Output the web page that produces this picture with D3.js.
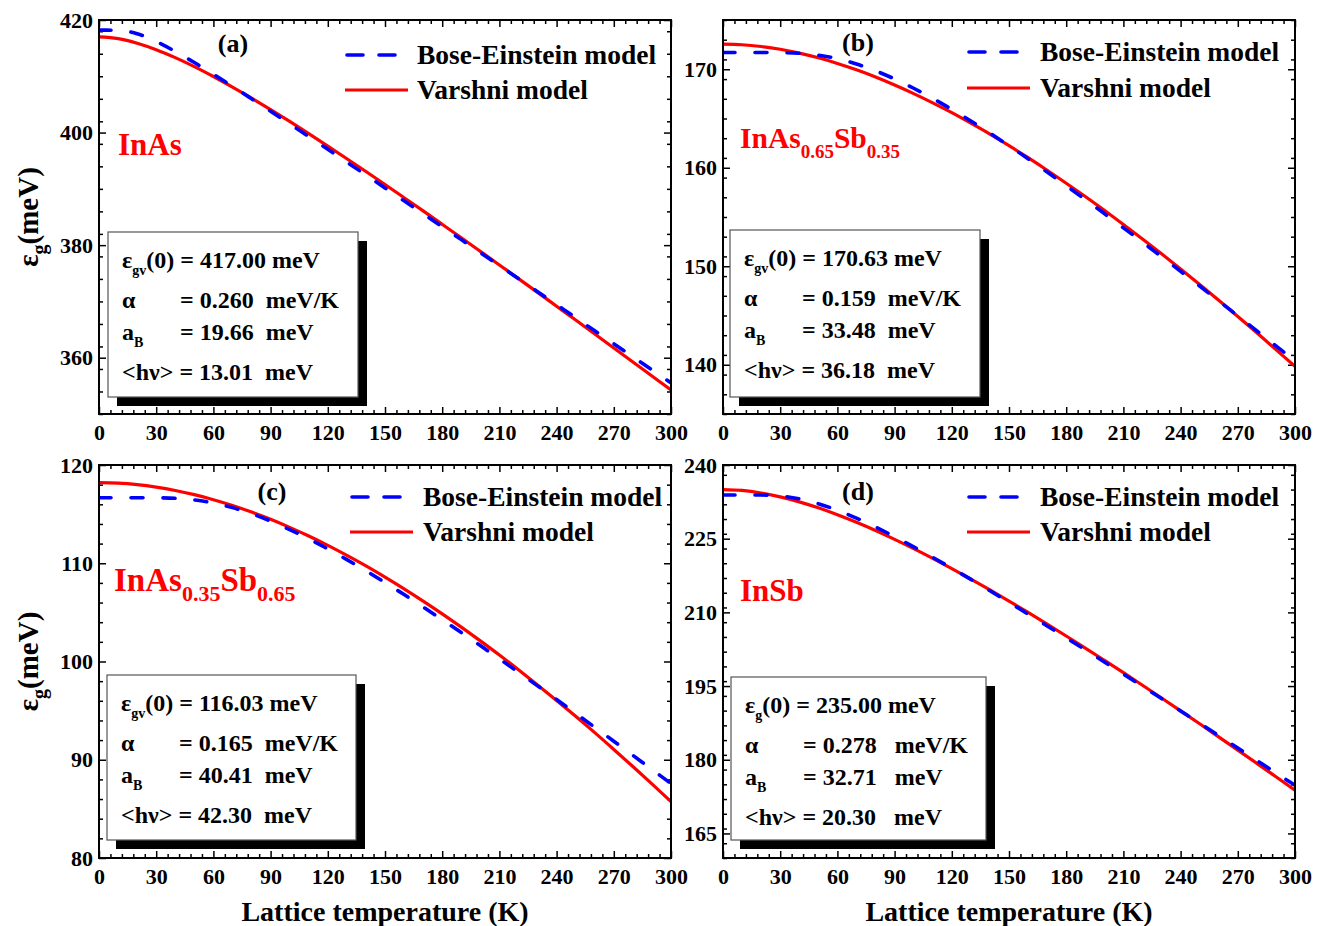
<!DOCTYPE html>
<html><head><meta charset="utf-8">
<script src="https://cdn.jsdelivr.net/npm/d3@7"></script>
<style>
body{margin:0;background:#fff;}
svg text{font-family:"Liberation Serif","Times New Roman",serif;font-weight:bold;}
</style>
</head><body>
<svg id="chart" width="1325" height="926"></svg>
<script>
// ---------------- DATA ----------------
const temperature = [0,10,20,30,40,50,60,70,80,90,100,110,120,130,140,150,160,170,180,190,200,210,220,230,240,250,260,270,280,290,300];

// (a) InAs
const boseA    = [418.20,418.17,417.56,416.18,414.41,412.44,410.35,408.21,406.01,403.79,401.55,399.30,397.03,394.75,392.46,390.17,387.87,385.58,383.28,380.98,378.67,376.36,374.05,371.73,369.42,367.11,364.79,362.48,360.16,357.84,355.54];
const varshniA = [417.00,416.69,415.88,414.73,413.32,411.72,409.96,408.09,406.12,404.08,401.97,399.81,397.60,395.35,393.08,390.77,388.43,386.08,383.70,381.31,378.90,376.48,374.05,371.61,369.15,366.69,364.22,361.74,359.25,356.76,354.27];
// (b) InAs0.65Sb0.35
const boseB    = [171.70,171.70,171.70,171.69,171.62,171.43,171.07,170.53,169.84,169.01,168.07,167.04,165.92,164.74,163.51,162.23,160.91,159.56,158.18,156.78,155.35,153.90,152.45,150.97,149.49,147.99,146.48,144.96,143.44,141.91,140.37];
const varshniB = [172.55,172.49,172.31,172.03,171.64,171.16,170.59,169.94,169.21,168.40,167.53,166.59,165.59,164.52,163.41,162.24,161.02,159.75,158.43,157.08,155.68,154.24,152.77,151.26,149.72,148.14,146.54,144.90,143.24,141.54,139.83];
// (c) InAs0.35Sb0.65
const boseC    = [116.67,116.67,116.67,116.66,116.61,116.44,116.13,115.66,115.04,114.29,113.43,112.49,111.46,110.37,109.23,108.04,106.81,105.55,104.26,102.95,101.62,100.27,98.90,97.52,96.13,94.72,93.31,91.89,90.45,89.01,87.57];
const varshniC = [118.20,118.15,118.00,117.75,117.41,116.98,116.47,115.88,115.21,114.47,113.65,112.77,111.82,110.80,109.73,108.59,107.40,106.15,104.85,103.50,102.10,100.66,99.16,97.62,96.04,94.42,92.76,91.05,89.31,87.54,85.73];
// (d) InSb
const boseD    = [233.89,233.89,233.88,233.69,233.11,232.12,230.78,229.18,227.37,225.42,223.35,221.20,218.98,216.71,214.39,212.04,209.65,207.24,204.81,202.37,199.90,197.43,194.95,192.45,189.94,187.43,184.91,182.39,179.86,177.32,174.79];
const varshniD = [235.00,234.82,234.30,233.52,232.50,231.28,229.88,228.34,226.66,224.87,222.97,220.98,218.91,216.77,214.56,212.30,209.98,207.61,205.19,202.74,200.24,197.72,195.16,192.57,189.96,187.32,184.65,181.97,179.27,176.54,173.80];

const xTickValues = [0,30,60,90,120,150,180,210,240,270,300];
const xMinorStep = 6;
const yDomains = [[350,420],[135,175],[80,120],[160,240]];
const yTickValues = [[360,380,400,420],[140,150,160,170],[80,90,100,110,120],[165,180,195,210,225,240]];
const yMinorSteps = [4,2,2,3];

const panelTags = ["(a)","(b)","(c)","(d)"];
const materialNames = [
  [["InAs",""]],
  [["InAs","0.65"],["Sb","0.35"]],
  [["InAs","0.35"],["Sb","0.65"]],
  [["InSb",""]]
];
const legendLabels = ["Bose-Einstein model","Varshni model"];
const gapSubscripts = ["gv","gv","gv","g"];
const gapValues = ["417.00","170.63","116.03","235.00"];
const alphaValues = ["0.260","0.159","0.165","0.278"];
const aBValues = ["19.66","33.48","40.41","32.71"];
const hvValues = ["13.01","36.18","42.30","20.30"];
const unitGaps = ["  ","  ","  ","   "];
const xTitle = "Lattice temperature (K)";

// ---------------- LAYOUT ----------------
const frames = [
  {left:99, right:671, top:20, bottom:414},
  {left:723, right:1295, top:20, bottom:414},
  {left:99, right:671, top:465, bottom:858},
  {left:723, right:1295, top:465, bottom:858}
];
const boseSeries = [boseA,boseB,boseC,boseD];
const varshniSeries = [varshniA,varshniB,varshniC,varshniD];
const boxes = [
  {dx:9, dy:212, w:250, h:165},
  {dx:7, dy:210, w:250, h:167},
  {dx:8, dy:210, w:249, h:165},
  {dx:8, dy:212, w:255, h:163}
];
const legendPos = [
  {lx:246, tx:318, y1:35, y2:70},
  {lx:244, tx:317, y1:32, y2:68},
  {lx:251, tx:324, y1:32, y2:67},
  {lx:244, tx:317, y1:32, y2:67}
];
const tagPos = [{x:134,y:32},{x:135,y:31},{x:173,y:35},{x:135,y:35}];
const matPos = [{x:19,y:135},{x:17,y:128},{x:15,y:126},{x:17,y:136}];
const matSize = [31,29.5,33,31];

const FONT = '"Liberation Serif","Times New Roman",serif';
const svg = d3.select("#chart");
const defs = svg.append("defs");

function rich(parent, x, y, parts, size, color) {
  const t = parent.append("text").attr("x",x).attr("y",y)
    .attr("font-size",size).attr("fill",color||"#000").style("white-space","pre");
  let shift = 0;
  parts.forEach(p => {
    const s = t.append("tspan").text(p.t);
    const target = p.sub || 0;
    if (target !== shift) { s.attr("dy", target - shift); shift = target; }
    if (p.size) s.attr("font-size", p.size);
  });
  return t;
}

function styleAxis(g, fs) {
  g.selectAll("path.domain").remove();
  g.selectAll("line").attr("stroke","#000").attr("stroke-width",1.5);
  g.selectAll("text").attr("font-size",fs).attr("font-family",FONT)
    .attr("font-weight","bold").attr("fill","#000");
}

frames.forEach((f,i) => {
  const g = svg.append("g");
  const x = d3.scaleLinear().domain([0,300]).range([f.left,f.right]);
  const y = d3.scaleLinear().domain(yDomains[i]).range([f.bottom,f.top]);

  const xMinor = d3.range(0,300+1e-9,xMinorStep).filter(v=>!xTickValues.includes(v));
  const yMinor = d3.range(yDomains[i][0], yDomains[i][1]+1e-9, yMinorSteps[i]).filter(v=>!yTickValues[i].includes(v));

  const major = 7, minor = 4, TF = 22;
  styleAxis(g.append("g").attr("transform",`translate(0,${f.bottom})`)
    .call(d3.axisBottom(x).tickValues(xTickValues).tickSize(-major).tickPadding(10).tickFormat(d3.format("d"))), TF);
  styleAxis(g.append("g").attr("transform",`translate(0,${f.bottom})`)
    .call(d3.axisBottom(x).tickValues(xMinor).tickSize(-minor).tickFormat("")), TF);
  styleAxis(g.append("g").attr("transform",`translate(0,${f.top})`)
    .call(d3.axisTop(x).tickValues(xTickValues).tickSize(-major).tickFormat("")), TF);
  styleAxis(g.append("g").attr("transform",`translate(0,${f.top})`)
    .call(d3.axisTop(x).tickValues(xMinor).tickSize(-minor).tickFormat("")), TF);
  styleAxis(g.append("g").attr("transform",`translate(${f.left},0)`)
    .call(d3.axisLeft(y).tickValues(yTickValues[i]).tickSize(-major).tickPadding(6).tickFormat(d3.format("d"))), TF);
  styleAxis(g.append("g").attr("transform",`translate(${f.left},0)`)
    .call(d3.axisLeft(y).tickValues(yMinor).tickSize(-minor).tickFormat("")), TF);
  styleAxis(g.append("g").attr("transform",`translate(${f.right},0)`)
    .call(d3.axisRight(y).tickValues(yTickValues[i]).tickSize(-major).tickFormat("")), TF);
  styleAxis(g.append("g").attr("transform",`translate(${f.right},0)`)
    .call(d3.axisRight(y).tickValues(yMinor).tickSize(-minor).tickFormat("")), TF);

  const cid = "clip"+i;
  defs.append("clipPath").attr("id",cid).append("rect")
    .attr("x",f.left).attr("y",f.top).attr("width",f.right-f.left).attr("height",f.bottom-f.top);

  const line = d3.line().x((d,j)=>x(temperature[j])).y(d=>y(d)).curve(d3.curveMonotoneX);
  const cg = g.append("g").attr("clip-path",`url(#${cid})`);
  cg.append("path").datum(varshniSeries[i]).attr("d",line)
    .attr("fill","none").attr("stroke","#ff0000").attr("stroke-width",3.2);
  cg.append("path").datum(boseSeries[i]).attr("d",line)
    .attr("fill","none").attr("stroke","#0000ff").attr("stroke-width",3.6)
    .attr("stroke-dasharray","12,20").attr("stroke-linecap","round");

  g.append("rect").attr("x",f.left).attr("y",f.top).attr("width",f.right-f.left).attr("height",f.bottom-f.top)
    .attr("fill","none").attr("stroke","#000").attr("stroke-width",2);

  g.append("text").attr("x",f.left+tagPos[i].x).attr("y",f.top+tagPos[i].y)
    .attr("text-anchor","middle").attr("font-size",26).text(panelTags[i]);

  const L = legendPos[i];
  g.append("line").attr("x1",f.left+L.lx).attr("x2",f.left+L.lx+62).attr("y1",f.top+L.y1).attr("y2",f.top+L.y1)
    .attr("stroke","#0000ff").attr("stroke-width",3.6).attr("stroke-dasharray","16,16").attr("stroke-linecap","round")
    .attr("stroke-dashoffset",-2);
  g.append("line").attr("x1",f.left+L.lx).attr("x2",f.left+L.lx+63).attr("y1",f.top+L.y2).attr("y2",f.top+L.y2)
    .attr("stroke","#ff0000").attr("stroke-width",3.2);
  g.append("text").attr("x",f.left+L.tx).attr("y",f.top+L.y1+9).attr("font-size",27.5).text(legendLabels[0]);
  g.append("text").attr("x",f.left+L.tx).attr("y",f.top+L.y2+9).attr("font-size",27.5).text(legendLabels[1]);

  const parts = [];
  materialNames[i].forEach(([main,sub]) => {
    parts.push({t:main});
    if (sub) parts.push({t:sub, sub:10, size:Math.round(matSize[i]*0.66)});
  });
  rich(g, f.left+matPos[i].x, f.top+matPos[i].y, parts, matSize[i], "#ff0000");

  const B = boxes[i];
  const bx = f.left+B.dx, by = f.top+B.dy;
  g.append("rect").attr("x",bx+9).attr("y",by+9).attr("width",B.w).attr("height",B.h).attr("fill","#000");
  g.append("rect").attr("x",bx).attr("y",by).attr("width",B.w).attr("height",B.h)
    .attr("fill","#fff").attr("stroke","#555").attr("stroke-width",1.2);
  const tx = bx+14, eqx = bx+72, fs = 24;
  rich(g, tx, by+36, [{t:"ε"},{t:gapSubscripts[i],sub:7,size:14},{t:"(0) = "+gapValues[i]+" meV"}], fs);
  rich(g, tx, by+76, [{t:"α"}], fs);
  rich(g, eqx, by+76, [{t:"= "+alphaValues[i]+unitGaps[i]+"meV/K"}], fs);
  rich(g, tx, by+108, [{t:"a"},{t:"B",sub:7,size:14}], fs);
  rich(g, eqx, by+108, [{t:"= "+aBValues[i]+unitGaps[i]+"meV"}], fs);
  rich(g, tx, by+148, [{t:"<hν> = "+hvValues[i]+unitGaps[i]+"meV"}], fs);

  if (i===0 || i===2) {
    const cy = (f.top+f.bottom)/2;
    const yt = g.append("g").attr("transform",`translate(38,${cy}) rotate(-90)`);
    rich(yt, 0, 0, [{t:"ε"},{t:"g",sub:8,size:20},{t:"(meV)",sub:0}], 29).attr("text-anchor","middle");
  }
  if (i===2 || i===3) {
    g.append("text").attr("x",(f.left+f.right)/2).attr("y",921).attr("text-anchor","middle")
      .attr("font-size",28).text(xTitle);
  }
});
</script>
</body></html>
